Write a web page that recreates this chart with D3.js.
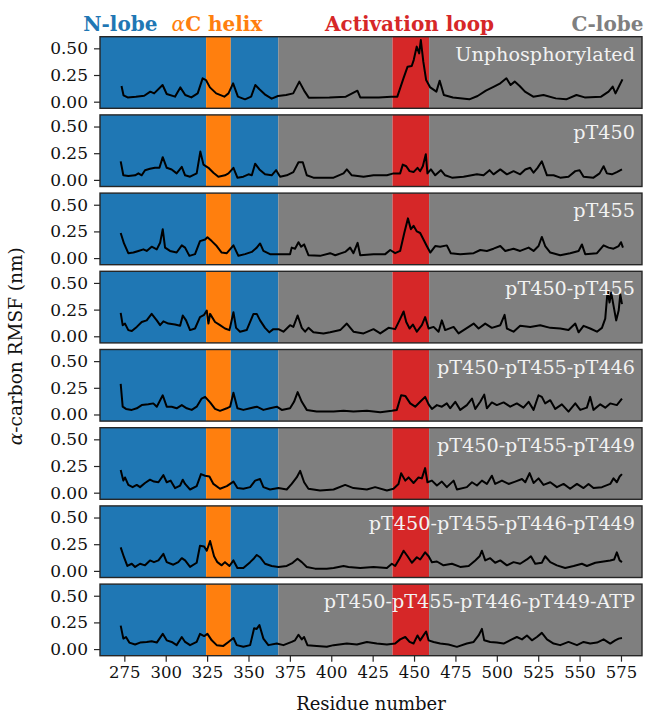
<!DOCTYPE html>
<html><head><meta charset="utf-8">
<script src="https://cdn.jsdelivr.net/npm/d3@7"></script>
<style>body{margin:0;background:#fff}svg{display:block}</style>
</head><body><svg id="c" width="645" height="715"></svg>
<script>
// ---------------- DATA ----------------
const panelLabels = ["Unphosphorylated","pT450","pT455","pT450-pT455","pT450-pT455-pT446","pT450-pT455-pT449","pT450-pT455-pT446-pT449","pT450-pT455-pT446-pT449-ATP"];
const regionNames = ["N-lobe","αC helix","N-lobe","C-lobe","Activation loop","C-lobe"];
const regionStart = [260.3, 324.4, 339.3, 368.0, 437.0, 459.1];
const regionEnd   = [324.4, 339.3, 368.0, 437.0, 459.1, 587.7];
const xTicks = [275,300,325,350,375,400,425,450,475,500,525,550,575];
const yTicks = [0.00,0.25,0.50];

const rmsfUnphos = [[273.3,0.147],[274.5,0.06],[277,0.04],[282,0.047],[287,0.056],[290.7,0.094],[293,0.078],[298.1,0.156],[300.6,0.072],[305.6,0.047],[308.8,0.134],[311.8,0.063],[315.5,0.04],[319.3,0.078],[322.3,0.219],[324.3,0.203],[326.7,0.134],[330.5,0.078],[335.4,0.047],[337.9,0.078],[340.7,0.172],[343.6,0.047],[347.9,0.022],[351.6,0.047],[354.1,0.156],[356.6,0.116],[360.3,0.063],[364,0.028],[367.8,0.053],[372.7,0.063],[377,0.078],[380.7,0.188],[384,0.094],[386.4,0.038],[398.9,0.04],[408.8,0.047],[415.8,0.103],[417.5,0.04],[428.7,0.04],[436.2,0.047],[439.9,0.047],[443.6,0.219],[446.1,0.328],[448.6,0.334],[449.8,0.39],[451.6,0.516],[453.1,0.453],[454.1,0.578],[455.6,0.375],[457.3,0.203],[459.8,0.134],[463.5,0.094],[465.5,0.197],[468,0.063],[473.5,0.04],[483.4,0.022],[488.4,0.053],[493.4,0.103],[498.3,0.141],[502.1,0.172],[505.8,0.219],[508.3,0.156],[510.8,0.188],[513.8,0.147],[517,0.094],[522,0.047],[528.2,0.063],[535.6,0.031],[541.9,0.022],[548.1,0.063],[553.1,0.04],[563,0.047],[567.5,0.094],[570,0.141],[571.7,0.078],[574.2,0.156],[575.9,0.209]];

const rmsfT450 = [[272.8,0.174],[274.4,0.043],[277.4,0.037],[281.5,0.043],[283.5,0.061],[285.5,0.043],[287.5,0.091],[290.5,0.104],[293.5,0.113],[296.2,0.113],[298.2,0.213],[300.6,0.113],[303.6,0.098],[306.6,0.061],[309.7,0.122],[311.7,0.043],[314.7,0.03],[318.7,0.061],[320.9,0.265],[322.8,0.143],[325.8,0.113],[328.8,0.067],[331.8,0.03],[335.8,0.043],[337.9,0.061],[340.9,0.113],[343.3,0.021],[346.9,0.03],[350,0.052],[352,0.043],[354,0.152],[356.6,0.098],[360,0.052],[364,0.043],[366.7,0.091],[369.1,0.03],[373.1,0.043],[377.1,0.073],[380.2,0.165],[382.8,0.165],[385.2,0.043],[389.2,0.021],[397.3,0.021],[401.4,0.021],[407.4,0.061],[409.4,0.098],[412.4,0.043],[419.5,0.03],[425.5,0.043],[433.6,0.043],[437.6,0.061],[441.6,0.061],[443.2,0.143],[445.3,0.128],[447.3,0.082],[449.7,0.073],[452.1,0.113],[453.7,0.082],[455.3,0.128],[457.1,0.241],[458.1,0.061],[460.2,0.098],[462.8,0.043],[466.2,0.091],[468.8,0.043],[472.9,0.021],[479.9,0.03],[488,0.052],[492,0.043],[495.6,0.091],[498,0.052],[502.1,0.098],[506.1,0.052],[510.1,0.082],[514.1,0.052],[517.2,0.098],[520.2,0.113],[522.2,0.067],[524.6,0.113],[527.2,0.174],[530.3,0.043],[534.3,0.043],[538.3,0.021],[543.3,0.03],[547.4,0.082],[550,0.091],[552.4,0.03],[558.4,0.021],[562.1,0.061],[564.5,0.128],[566.5,0.061],[569.5,0.052],[572.5,0.073],[575.6,0.098]];

const rmsfT455 = [[272.8,0.235],[274.8,0.137],[277.4,0.046],[280.5,0.052],[283.5,0.067],[286.5,0.082],[288.5,0.067],[291.5,0.107],[294.6,0.082],[296.6,0.143],[298.2,0.271],[299.6,0.098],[302.6,0.067],[306.6,0.052],[309.7,0.119],[311.7,0.098],[314.3,0.021],[317.7,0.037],[320.7,0.159],[323.8,0.174],[325.2,0.195],[327.8,0.159],[330.8,0.113],[333.8,0.052],[336.9,0.046],[340.9,0.119],[343.9,0.021],[347.9,0.037],[352,0.058],[355,0.098],[357,0.137],[359,0.067],[363,0.037],[368.1,0.037],[375.1,0.037],[376.1,0.098],[378.1,0.088],[380.2,0.149],[381.8,0.107],[383.6,0.128],[386.2,0.027],[393.2,0.021],[399.3,0.046],[402.4,0.027],[408.4,0.058],[411.4,0.098],[413.4,0.046],[415.9,0.143],[417.5,0.027],[425.5,0.037],[432.6,0.037],[435.6,0.076],[438.6,0.046],[441.6,0.067],[444.1,0.235],[446.3,0.372],[448.1,0.271],[449.7,0.302],[451.7,0.25],[453.7,0.235],[455.7,0.174],[457.7,0.113],[459.8,0.052],[462.8,0.113],[465.8,0.107],[469.8,0.119],[472.2,0.046],[477.9,0.037],[486,0.046],[490,0.076],[494,0.067],[498,0.088],[502.1,0.113],[505.1,0.067],[510.1,0.088],[514.1,0.067],[519.2,0.098],[522.2,0.067],[525.2,0.113],[527.2,0.198],[529.2,0.113],[532.3,0.052],[538.3,0.027],[544.3,0.046],[549.4,0.067],[551.4,0.128],[553.4,0.037],[560.5,0.046],[564.5,0.119],[567.5,0.098],[570.5,0.088],[573.6,0.113],[575,0.149],[576.2,0.098]];

const rmsfT450T455 = [[272.8,0.22],[274,0.104],[275.4,0.119],[277.4,0.058],[279.5,0.049],[282.5,0.088],[285.5,0.134],[288.5,0.149],[291.5,0.21],[294.6,0.149],[296.6,0.104],[298.6,0.14],[301.6,0.119],[305.6,0.11],[308.7,0.098],[310.3,0.195],[312.3,0.149],[314.7,0.058],[317.7,0.073],[320.7,0.18],[323.2,0.201],[324.8,0.241],[325.8,0.119],[326.8,0.21],[329.8,0.134],[332.8,0.104],[335.8,0.073],[338.5,0.058],[340.9,0.226],[342.5,0.079],[344.9,0.043],[348.9,0.058],[353,0.21],[355,0.21],[357,0.149],[360,0.079],[362.6,0.037],[365,0.067],[368.1,0.067],[371.1,0.043],[375.1,0.104],[377.1,0.088],[379.7,0.195],[382.2,0.079],[384.2,0.043],[386.2,0.079],[389.2,0.037],[395.3,0.027],[399.3,0.037],[405.4,0.058],[409.4,0.119],[413.4,0.043],[419.5,0.027],[425.5,0.067],[429.6,0.027],[434.6,0.079],[438.6,0.067],[441.2,0.149],[443.7,0.232],[445.3,0.134],[447.3,0.073],[449.3,0.11],[451.7,0.043],[454.7,0.104],[456.7,0.18],[458.8,0.073],[461.8,0.088],[464.8,0.043],[466.8,0.149],[468.8,0.058],[473.9,0.088],[476.9,0.027],[483,0.088],[486,0.119],[489,0.073],[493,0.119],[497,0.079],[502.1,0.104],[504.7,0.201],[506.1,0.073],[510.1,0.043],[514.1,0.098],[520.2,0.088],[526.2,0.104],[532.3,0.079],[538.3,0.073],[543.3,0.058],[547.4,0.119],[549.4,0.037],[552.4,0.098],[556.4,0.073],[560.5,0.043],[563.5,0.079],[565.5,0.165],[566.9,0.424],[568.1,0.317],[569.1,0.409],[570.5,0.287],[572.1,0.149],[573.6,0.241],[574.6,0.393],[575.6,0.302]];

const rmsfT446 = [[272.8,0.287],[274,0.073],[276,0.052],[279.5,0.043],[282.5,0.058],[285.5,0.088],[289.5,0.095],[292.5,0.104],[294.6,0.073],[298.2,0.18],[300.6,0.073],[303.6,0.073],[306.6,0.058],[309.7,0.088],[312.7,0.058],[315.7,0.043],[318.7,0.073],[321.7,0.149],[323.8,0.165],[326.8,0.113],[329.8,0.052],[332.8,0.034],[336.9,0.058],[338.9,0.073],[340.9,0.204],[343.3,0.058],[346.9,0.043],[351,0.058],[355,0.073],[359,0.043],[363,0.058],[367.1,0.073],[370.1,0.043],[375.1,0.058],[377.5,0.119],[379.7,0.21],[382.2,0.119],[385.2,0.043],[391.2,0.027],[397.3,0.027],[401.4,0.027],[407.4,0.034],[413.4,0.027],[421.5,0.034],[429.6,0.021],[436.6,0.034],[439.6,0.043],[442.2,0.18],[444.7,0.174],[447.7,0.104],[450.7,0.073],[453.7,0.119],[456.7,0.165],[458.8,0.095],[460.8,0.052],[463.8,0.088],[466.8,0.073],[469.8,0.104],[471.8,0.058],[474.9,0.119],[477.9,0.043],[481.9,0.088],[485,0.149],[487,0.052],[490,0.119],[492.4,0.186],[494,0.058],[497,0.113],[500,0.088],[504.1,0.113],[508.1,0.073],[512.1,0.104],[516.1,0.064],[519.2,0.119],[522.2,0.043],[525.2,0.18],[527.2,0.165],[529.2,0.104],[532.3,0.134],[535.3,0.052],[539.3,0.095],[543.3,0.027],[547.4,0.104],[550.4,0.043],[554.4,0.064],[556.4,0.165],[558.4,0.043],[562.5,0.095],[565.5,0.064],[568.5,0.104],[572.5,0.088],[575.6,0.149]];

const rmsfT449 = [[272.8,0.213],[274.4,0.113],[275.4,0.143],[277.4,0.073],[280,0.052],[282.5,0.073],[284.5,0.052],[287.5,0.091],[290.5,0.122],[292.9,0.104],[295.6,0.098],[298.6,0.165],[300.6,0.098],[303,0.113],[305.6,0.043],[308.7,0.067],[310.3,0.122],[311.7,0.082],[314.7,0.03],[318.7,0.061],[321.3,0.174],[323.8,0.159],[326.4,0.152],[328.8,0.082],[332.8,0.037],[336.9,0.061],[340.9,0.104],[343.3,0.043],[346.9,0.037],[351,0.052],[354,0.113],[357,0.128],[359,0.052],[363,0.03],[368.1,0.043],[373.1,0.03],[376.1,0.082],[379.1,0.143],[381.2,0.204],[383.6,0.098],[386.2,0.037],[393.2,0.021],[401.4,0.03],[408.4,0.073],[413.4,0.043],[421.5,0.03],[426.5,0.052],[433.6,0.021],[437.6,0.037],[440.6,0.082],[442.2,0.183],[444.7,0.113],[446.7,0.143],[449.7,0.091],[452.7,0.143],[454.7,0.134],[456.7,0.23],[458.1,0.098],[460.8,0.113],[463.8,0.067],[466.8,0.104],[469.8,0.052],[473.9,0.113],[475.9,0.03],[481.9,0.052],[485,0.098],[488,0.067],[491,0.113],[494,0.082],[497,0.159],[499,0.082],[503.1,0.113],[507.1,0.082],[511.1,0.104],[515.2,0.128],[517.2,0.098],[519.8,0.183],[522.2,0.091],[525.2,0.134],[528.2,0.073],[532.3,0.098],[536.3,0.052],[540.3,0.082],[544.3,0.037],[548.4,0.082],[552.4,0.043],[555.4,0.082],[558.4,0.043],[563.5,0.052],[568.5,0.082],[570.5,0.134],[572.5,0.098],[574.2,0.152],[575.6,0.174]];

const rmsfT446T449 = [[272.8,0.22],[274.8,0.128],[276.8,0.046],[279.5,0.067],[281.5,0.037],[284.5,0.067],[287.5,0.052],[290.5,0.098],[292.9,0.082],[295.6,0.098],[298.6,0.159],[300.6,0.082],[304.6,0.058],[307.6,0.082],[309.7,0.119],[311.7,0.098],[314.7,0.037],[318.7,0.076],[320.7,0.235],[323.2,0.229],[324.8,0.189],[326.8,0.28],[329.2,0.137],[331.2,0.082],[333.8,0.052],[335.8,0.082],[338.5,0.046],[340.9,0.098],[343.3,0.027],[346.9,0.027],[351,0.082],[353.4,0.119],[355,0.149],[357,0.128],[360,0.067],[364,0.046],[368.1,0.037],[373.1,0.046],[376.7,0.076],[379.6,0.113],[382.2,0.082],[385.2,0.037],[390.2,0.021],[397.3,0.021],[401.4,0.027],[407.4,0.046],[410.4,0.037],[417.5,0.027],[425.5,0.037],[433.6,0.027],[436.6,0.067],[438.6,0.046],[441.2,0.113],[443.7,0.189],[446.1,0.137],[448.7,0.076],[451.7,0.128],[453.7,0.107],[456.7,0.174],[458.8,0.137],[460.8,0.082],[463.8,0.088],[467.8,0.052],[472.9,0.067],[477.9,0.037],[483,0.046],[487,0.098],[489.6,0.137],[491,0.189],[493,0.098],[496,0.119],[499,0.076],[502.1,0.098],[506.1,0.052],[510.1,0.082],[514.1,0.067],[518.2,0.107],[520.6,0.137],[523.2,0.067],[527.2,0.076],[529.2,0.137],[532.3,0.082],[536.3,0.052],[541.3,0.027],[546.4,0.046],[551.4,0.067],[554.4,0.046],[559.5,0.076],[564.5,0.088],[568.5,0.098],[570.9,0.107],[572.5,0.174],[574.2,0.098],[575.6,0.082]];

const rmsfATP = [[272.8,0.22],[274.4,0.098],[276,0.113],[278,0.061],[281.5,0.043],[284.5,0.061],[288.5,0.067],[291.5,0.073],[294.6,0.061],[298.2,0.143],[300.6,0.082],[303.6,0.067],[306.6,0.037],[309.7,0.113],[311.7,0.067],[314.7,0.037],[318.7,0.067],[320.7,0.143],[323.2,0.122],[325.2,0.143],[327.8,0.082],[330.8,0.037],[334.8,0.03],[337.9,0.067],[340.9,0.104],[342.9,0.037],[346.9,0.021],[351,0.037],[353.4,0.195],[355,0.189],[356.6,0.226],[359,0.098],[362,0.037],[367.1,0.052],[371.1,0.037],[376.1,0.067],[378.1,0.082],[380.2,0.134],[382.2,0.091],[383.6,0.113],[385.6,0.037],[391.2,0.03],[397.3,0.021],[401.4,0.037],[409.4,0.052],[415.5,0.043],[421.5,0.067],[427.5,0.052],[433.6,0.043],[438.6,0.052],[441.6,0.091],[444.7,0.113],[447.3,0.067],[449.7,0.052],[452.1,0.128],[453.7,0.082],[455.7,0.128],[457.3,0.165],[458.8,0.082],[461.8,0.067],[465.8,0.052],[470.8,0.043],[475.9,0.021],[481.9,0.052],[486,0.067],[489,0.128],[491,0.189],[492.4,0.082],[496,0.067],[500,0.061],[504.1,0.052],[509.1,0.091],[512.1,0.113],[515.2,0.091],[518.2,0.128],[521.2,0.082],[524.2,0.113],[527.2,0.152],[530.3,0.091],[534.3,0.052],[538.3,0.037],[543.3,0.067],[548.4,0.037],[552.4,0.067],[556.4,0.052],[560.5,0.061],[564.5,0.091],[568.5,0.052],[571.5,0.082],[573.6,0.098],[575.6,0.104]];

const series = [rmsfUnphos, rmsfT450, rmsfT455, rmsfT450T455, rmsfT446, rmsfT449, rmsfT446T449, rmsfATP];

// ---------------- STYLE / LAYOUT ----------------
const regionColors = ["#1f77b4","#ff7f0e","#1f77b4","#7f7f7f","#d62728","#7f7f7f"];
const W = 645, H = 715;
const left = 100, right = 642, top0 = 36.7, pitch = 78.2, ph = 71.6;
const serif = "'DejaVu Serif', serif";

const svg = d3.select("#c");
const x = d3.scaleLinear().domain([260.3, 587.7]).range([left, right]);
const y = d3.scaleLinear().domain([-0.062, 0.609]).range([ph, 0]);
const line = d3.line().x(d => x(d[0])).y(d => y(d[1]));

svg.append("defs").append("clipPath").attr("id","clip")
  .append("rect").attr("x", left).attr("y", 0).attr("width", right-left).attr("height", ph);

series.forEach((data, i) => {
  const g = svg.append("g").attr("transform", `translate(0,${top0 + i*pitch})`);
  g.selectAll("rect.reg").data(regionStart).join("rect").attr("class","reg")
    .attr("x", (d) => x(d)).attr("y", 0)
    .attr("width", (d, j) => x(regionEnd[j]) - x(d)).attr("height", ph)
    .attr("fill", (d, j) => regionColors[j]);
  g.append("path").datum(data).attr("d", line).attr("fill","none")
    .attr("stroke","#000").attr("stroke-width",2).attr("stroke-linejoin","round")
    .attr("clip-path","url(#clip)");
  g.append("text").attr("x", right - 7).attr("y", 24).attr("text-anchor","end")
    .attr("font-family", serif).attr("font-size", 19.2).attr("fill","#f2f2f2")
    .text(panelLabels[i]);
  g.append("rect").attr("x", left).attr("y", 0).attr("width", right-left).attr("height", ph)
    .attr("fill","none").attr("stroke","#262626").attr("stroke-width",1.4);
  const ya = g.append("g").attr("transform", `translate(${left},0)`)
    .call(d3.axisLeft(y).tickValues(yTicks).tickFormat(d3.format(".2f")).tickSize(6).tickPadding(6));
  ya.select(".domain").remove();
  ya.selectAll("line").attr("stroke","#262626").attr("stroke-width",1.2);
  ya.selectAll("text").attr("font-family", serif).attr("font-size", 17).attr("fill","#111");
  if (i === series.length - 1) {
    const xa = g.append("g").attr("transform", `translate(0,${ph})`)
      .call(d3.axisBottom(x).tickValues(xTicks).tickFormat(d3.format("d")).tickSize(6).tickPadding(5));
    xa.select(".domain").remove();
    xa.selectAll("line").attr("stroke","#262626").attr("stroke-width",1.2);
    xa.selectAll("text").attr("font-family", serif).attr("font-size", 16.5).attr("fill","#111");
  }
});

// top region labels
const topLabels = ["N-lobe","αC helix","Activation loop","C-lobe"];
const topLabelColors = ["#1f77b4","#ff7f0e","#d62728","#7f7f7f"];
const topLabelCenters = [120.4, 217, 409.5, 607.5];
topLabels.forEach((t, i) => {
  const tx = svg.append("text").attr("x", topLabelCenters[i]).attr("y", 30.5)
    .attr("text-anchor","middle").attr("font-family", serif).attr("font-weight","bold")
    .attr("font-size", 20).attr("fill", topLabelColors[i]);
  if (t.startsWith("α")) {
    tx.append("tspan").attr("font-style","italic").attr("font-weight","normal").text("α");
    tx.append("tspan").text(t.slice(1));
  } else tx.text(t);
});

// axis titles
svg.append("text").attr("x", (left+right)/2).attr("y", 710).attr("text-anchor","middle")
  .attr("font-family", serif).attr("font-size", 18).attr("fill","#111").text("Residue number");
const yt = svg.append("text").attr("transform", `translate(22,${top0 + (7*pitch+ph)/2}) rotate(-90)`)
  .attr("text-anchor","middle").attr("font-family", serif).attr("font-size", 18.5).attr("fill","#111");
yt.append("tspan").attr("font-style","italic").text("α");
yt.append("tspan").text("-carbon RMSF (nm)");
</script></body></html>
